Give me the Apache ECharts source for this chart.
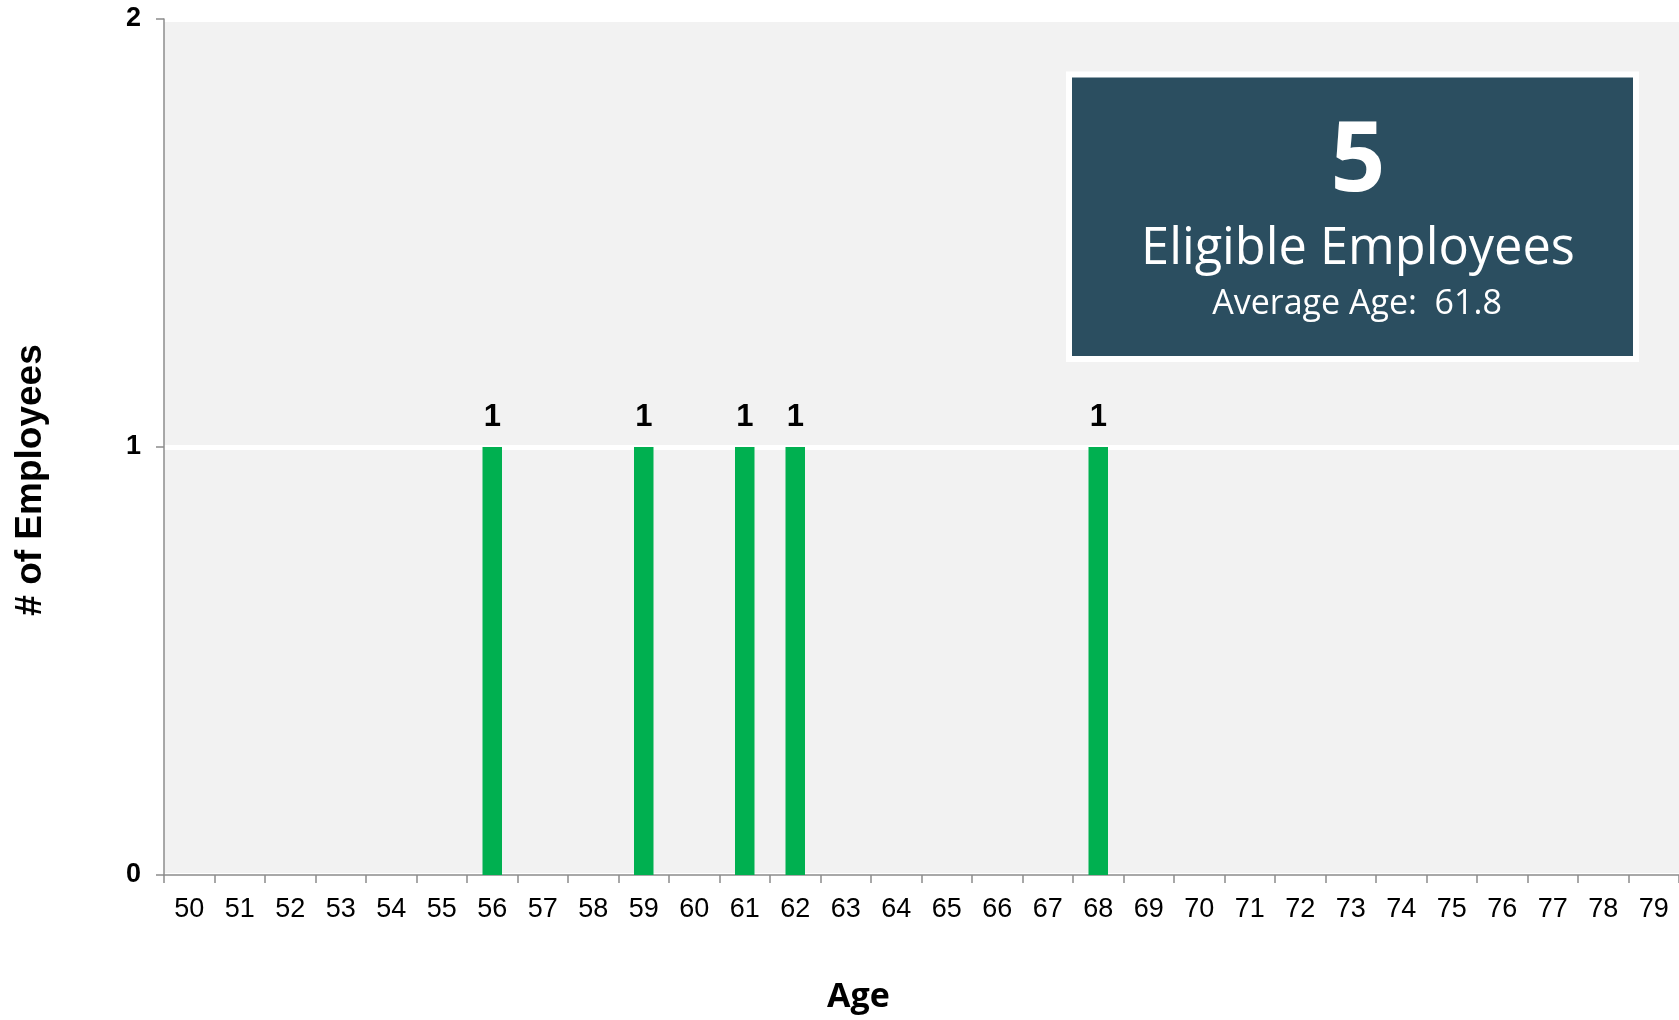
<!DOCTYPE html>
<html>
<head>
<meta charset="utf-8">
<script src="https://cdn.jsdelivr.net/npm/echarts@6/dist/echarts.min.js"></script>
<style>
html,body{margin:0;padding:0;background:#fff;}
#chart{width:1679px;height:1020px;}
</style>
</head>
<body>
<div id="chart"></div>
<script>
// ---- data ----
const ages = ['50','51','52','53','54','55','56','57','58','59','60','61','62','63','64','65','66','67','68','69','70','71','72','73','74','75','76','77','78','79'];
const employees = [0,0,0,0,0,0,1,0,0,1,0,1,1,0,0,0,0,0,1,0,0,0,0,0,0,0,0,0,0,0];
const yTicks = [0, 1, 2];
const eligibleCount = '5';
const eligibleLabel = 'Eligible Employees';
const averageAge = '61.8';
const xTitle = 'Age';
const yTitle = '# of Employees';

const chart = echarts.init(document.getElementById('chart'), null, {renderer: 'canvas'});
const axisGray = '#8c8c8c';
const option = {
  animation: false,
  backgroundColor: '#ffffff',
  grid: {
    left: 164, top: 19, width: 1524, height: 856,
    show: true, backgroundColor: '#f2f2f2', borderWidth: 0
  },
  xAxis: {
    type: 'category',
    data: ages,
    boundaryGap: true,
    name: xTitle,
    nameLocation: 'middle',
    nameGap: 105,
    nameTextStyle: {fontFamily: 'Open Sans', fontWeight: 'bold', fontSize: 34, color: '#000', padding: [0, 126, 0, 0]},
    axisLine: {lineStyle: {color: axisGray, width: 1.5}},
    axisTick: {show: true, length: 8, lineStyle: {color: axisGray, width: 1.5}},
    axisLabel: {interval: 0, fontFamily: 'Liberation Sans', fontSize: 27, color: '#000', margin: 21},
    splitLine: {show: false}
  },
  yAxis: {
    type: 'value',
    min: yTicks[0], max: yTicks[yTicks.length - 1], interval: 1,
    name: yTitle,
    nameLocation: 'middle',
    nameGap: 115,
    nameTextStyle: {fontFamily: 'Liberation Sans', fontWeight: 'bold', fontSize: 37, color: '#000', padding: [0, 66, 0, 0]},
    axisLine: {show: true, lineStyle: {color: axisGray, width: 1.5}},
    axisTick: {show: true, length: 8, lineStyle: {color: axisGray, width: 1.5}},
    axisLabel: {fontFamily: 'Liberation Sans', fontWeight: 'bold', fontSize: 27, color: '#000', margin: 23},
    splitLine: {show: true, lineStyle: {color: '#ffffff', width: 5}}
  },
  series: [{
    type: 'bar',
    data: employees,
    barWidth: 19.5,
    itemStyle: {color: '#00b050'},
    label: {
      show: true, position: 'top', distance: 14,
      fontFamily: 'Liberation Sans', fontWeight: 'bold', fontSize: 31, color: '#000',
      formatter: p => (p.value ? String(p.value) : '')
    }
  }],
  graphic: [
    {type: 'rect', shape: {x: 1069, y: 74.5, width: 567, height: 284.5},
     style: {fill: '#2b4e60', stroke: '#ffffff', lineWidth: 6}, z: 100},
    {type: 'text', x: 1358, y: 164, z: 101,
     style: {text: eligibleCount, fill: '#ffffff', fontFamily: 'Open Sans', fontWeight: 'bold', fontSize: 96, align: 'center', verticalAlign: 'middle'}},
    {type: 'text', x: 1358, y: 249.5, z: 101,
     style: {text: eligibleLabel, fill: '#ffffff', fontFamily: 'Open Sans', fontSize: 50.5, align: 'center', verticalAlign: 'middle'}},
    {type: 'text', x: 1357, y: 304, z: 101,
     style: {text: 'Average Age:  ' + averageAge, fill: '#ffffff', fontFamily: 'Open Sans', fontSize: 34, align: 'center', verticalAlign: 'middle'}}
  ]
};
chart.setOption(option);
</script>
</body>
</html>
